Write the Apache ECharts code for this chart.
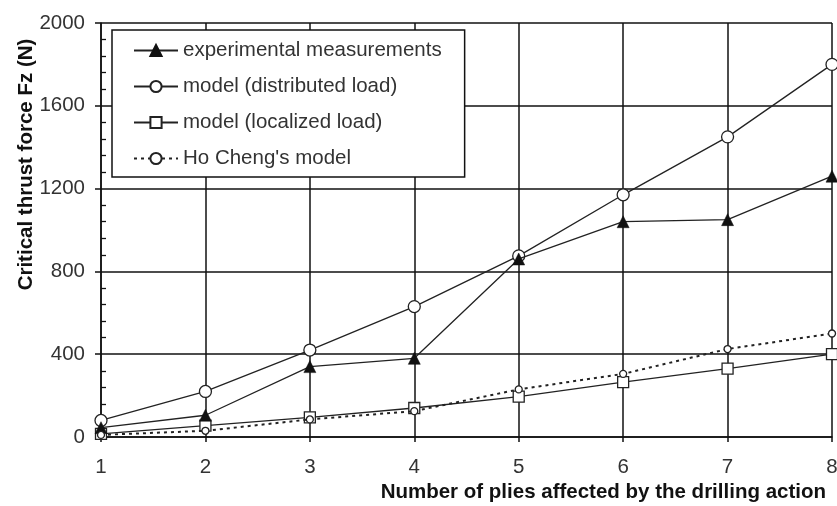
<!DOCTYPE html>
<html>
<head>
<meta charset="utf-8">
<title>Critical thrust force vs. plies affected</title>
<script src="https://cdn.jsdelivr.net/npm/echarts@6/dist/echarts.min.js"></script>
<style>
  html, body { margin: 0; padding: 0; background: #fff; }
  #chart { width: 837px; height: 506px; }
</style>
</head>
<body>
<div id="chart"></div>
<script>
// Number of plies affected by the drilling action
const plies = [1, 2, 3, 4, 5, 6, 7, 8];

// Critical thrust force Fz (N) for each number of plies
const experimental = [45, 105, 340, 380, 860, 1040, 1050, 1260];
const modelDistributed = [80, 220, 420, 630, 875, 1170, 1450, 1800];
const modelLocalized = [15, 55, 95, 140, 195, 265, 330, 400];
const hoCheng = [10, 30, 85, 125, 230, 305, 425, 500];

const seriesNames = [
  'experimental measurements',
  'model (distributed load)',
  'model (localized load)',
  "Ho Cheng's model"
];

const yTicks = { min: 0, max: 2000, step: 400 };

const FONT = '"Liberation Sans", Arial, Helvetica, sans-serif';
const INK = '#111';
const LINE = '#222';
const TEXT = '#333';

const pairs = vals => plies.map((p, i) => [p, vals[i]]);

const chart = echarts.init(document.getElementById('chart'), null, { renderer: 'canvas' });

chart.setOption({
  animation: false,
  backgroundColor: '#fff',
  textStyle: { fontFamily: FONT },
  grid: { left: 101, right: 5, top: 23, bottom: 69, containLabel: false, outerBoundsMode: 'none' },
  legend: {
    orient: 'vertical',
    left: 112,
    top: 30,
    padding: [10, 23, 8, 21],
    itemGap: 15,
    itemWidth: 44,
    itemHeight: 14,
    backgroundColor: '#fff',
    borderColor: INK,
    borderWidth: 1.5,
    borderRadius: 0,
    data: seriesNames,
    textStyle: { fontFamily: FONT, fontSize: 20.5, color: TEXT, lineHeight: 21 }
  },
  xAxis: {
    type: 'value',
    min: 1,
    max: 8,
    interval: 1,
    name: 'Number of plies affected by the drilling action',
    nameLocation: 'end',
    nameGap: -6,
    nameMoveOverlap: false,
    nameTextStyle: {
      fontFamily: FONT, fontSize: 20.5, fontWeight: 'bold', color: INK,
      align: 'right', verticalAlign: 'top', lineHeight: 20, padding: [45, 0, 0, 0]
    },
    axisLine: { show: true, onZero: false, lineStyle: { color: INK, width: 1.5 } },
    axisTick: { show: true, length: 5, lineStyle: { color: INK, width: 1.5 } },
    axisLabel: { color: TEXT, fontSize: 20.5, fontFamily: FONT, margin: 20 },
    splitLine: { show: true, lineStyle: { color: INK, width: 1.5 } }
  },
  yAxis: [
    {
      type: 'value',
      min: yTicks.min,
      max: yTicks.max,
      interval: yTicks.step,
      position: 'left',
      name: 'Critical thrust force Fz (N)',
      nameLocation: 'middle',
      nameRotate: 90,
      nameGap: 64,
      nameMoveOverlap: false,
      nameTextStyle: {
        fontFamily: FONT, fontSize: 20.5, fontWeight: 'bold', color: INK,
        padding: [0, 0, 0, 131]
      },
      axisLine: { show: true, lineStyle: { color: INK, width: 1.5 } },
      axisTick: { show: true, length: 6, lineStyle: { color: INK, width: 1.5 } },
      axisLabel: {
        color: TEXT, fontSize: 20.5, fontFamily: FONT, margin: 16,
        formatter: v => String(v)
      },
      splitLine: { show: true, lineStyle: { color: INK, width: 1.5 } }
    },
    {
      // companion axis carrying the inward minor ticks every 80 N
      type: 'value',
      min: yTicks.min,
      max: yTicks.max,
      interval: yTicks.step,
      position: 'left',
      offset: 0,
      axisLine: { show: false },
      axisLabel: { show: false },
      splitLine: { show: false },
      axisTick: { show: false, inside: true },
      minorTick: { show: true, splitNumber: 5, length: 5, lineStyle: { color: INK, width: 1.3 } }
    }
  ],
  series: [
    {
      name: seriesNames[0],
      type: 'line',
      data: pairs(experimental),
      symbol: 'triangle',
      symbolSize: 12,
      clip: false,
      z: 4,
      lineStyle: { color: LINE, width: 1.3 },
      itemStyle: { color: INK, borderColor: INK, borderWidth: 0.5 }
    },
    {
      name: seriesNames[1],
      type: 'line',
      data: pairs(modelDistributed),
      symbol: 'circle',
      symbolSize: 12,
      clip: false,
      z: 3,
      lineStyle: { color: LINE, width: 1.3 },
      itemStyle: { color: '#fff', borderColor: LINE, borderWidth: 1.3 }
    },
    {
      name: seriesNames[2],
      type: 'line',
      data: pairs(modelLocalized),
      symbol: 'rect',
      symbolSize: 11,
      clip: false,
      z: 3,
      lineStyle: { color: LINE, width: 1.3 },
      itemStyle: { color: '#fff', borderColor: LINE, borderWidth: 1.3 }
    },
    {
      name: seriesNames[3],
      type: 'line',
      data: pairs(hoCheng),
      symbol: 'circle',
      symbolSize: 7,
      clip: false,
      z: 5,
      lineStyle: { color: LINE, width: 2, type: [3, 4] },
      itemStyle: { color: '#fff', borderColor: LINE, borderWidth: 1.3 }
    }
  ]
});
</script>
</body>
</html>
